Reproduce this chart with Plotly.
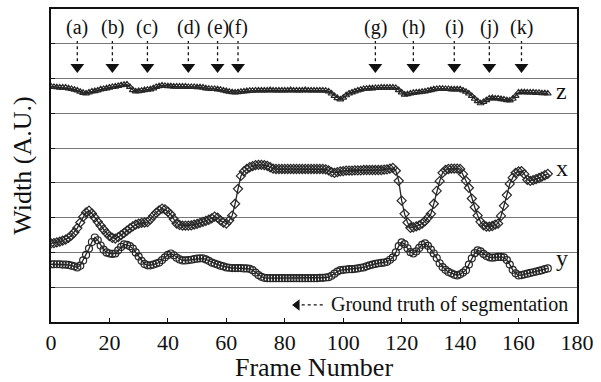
import plotly.graph_objects as go

frames = list(range(0, 171))

z_vals = [
    6.77, 6.76, 6.75, 6.74, 6.74, 6.74, 6.72, 6.70, 6.68, 6.66,
    6.62, 6.59, 6.57, 6.60, 6.63, 6.64, 6.66, 6.69, 6.70, 6.72,
    6.74, 6.76, 6.77, 6.79, 6.81, 6.82, 6.83, 6.76, 6.67, 6.63,
    6.64, 6.65, 6.67, 6.68, 6.69, 6.72, 6.76, 6.78, 6.80, 6.79,
    6.78, 6.78, 6.77, 6.77, 6.77, 6.77, 6.77, 6.76, 6.76, 6.76,
    6.75, 6.75, 6.74, 6.72, 6.71, 6.70, 6.70, 6.69, 6.68, 6.66,
    6.64, 6.62, 6.61, 6.60, 6.61, 6.62, 6.63, 6.64, 6.65, 6.65,
    6.66, 6.66, 6.66, 6.66, 6.66, 6.67, 6.66, 6.66, 6.66, 6.66,
    6.66, 6.66, 6.67, 6.66, 6.66, 6.66, 6.66, 6.67, 6.66, 6.66,
    6.66, 6.66, 6.66, 6.66, 6.65, 6.63, 6.57, 6.50, 6.44, 6.40,
    6.45, 6.52, 6.57, 6.60, 6.63, 6.66, 6.68, 6.70, 6.71, 6.72,
    6.72, 6.73, 6.73, 6.74, 6.74, 6.74, 6.74, 6.74, 6.73, 6.67,
    6.60, 6.54, 6.55, 6.57, 6.59, 6.60, 6.61, 6.62, 6.63, 6.65,
    6.67, 6.69, 6.70, 6.71, 6.71, 6.70, 6.70, 6.69, 6.69, 6.69,
    6.69, 6.66, 6.62, 6.57, 6.50, 6.42, 6.35, 6.29, 6.33, 6.38,
    6.43, 6.44, 6.43, 6.43, 6.41, 6.40, 6.38, 6.37, 6.42, 6.50,
    6.60, 6.61, 6.61, 6.60, 6.60, 6.60, 6.59, 6.59, 6.58, 6.58,
    6.57,
]

x_vals = [
    2.26, 2.27, 2.29, 2.31, 2.34, 2.37, 2.42, 2.49, 2.58, 2.70,
    2.86, 3.02, 3.15, 3.20, 3.12, 3.00, 2.88, 2.77, 2.66, 2.56,
    2.47, 2.42, 2.40, 2.44, 2.50, 2.56, 2.63, 2.69, 2.75, 2.80,
    2.83, 2.85, 2.86, 2.87, 2.95, 3.05, 3.14, 3.21, 3.26, 3.24,
    3.17, 3.09, 2.96, 2.83, 2.79, 2.77, 2.77, 2.77, 2.78, 2.80,
    2.82, 2.85, 2.88, 2.91, 2.94, 2.98, 3.03, 3.00, 2.92, 2.86,
    2.83, 2.92, 3.06, 3.40, 3.83, 4.20, 4.33, 4.40, 4.45, 4.48,
    4.51, 4.52, 4.52, 4.51, 4.49, 4.45, 4.41, 4.40, 4.40, 4.40,
    4.40, 4.40, 4.40, 4.40, 4.40, 4.40, 4.40, 4.40, 4.40, 4.40,
    4.40, 4.40, 4.40, 4.40, 4.39, 4.36, 4.31, 4.29, 4.31, 4.33,
    4.34, 4.35, 4.35, 4.35, 4.36, 4.36, 4.36, 4.37, 4.37, 4.37,
    4.37, 4.37, 4.37, 4.37, 4.38, 4.39, 4.41, 4.43, 4.35, 4.06,
    3.49, 3.11, 2.86, 2.71, 2.72, 2.75, 2.78, 2.83, 2.90, 3.00,
    3.11, 3.40, 3.77, 4.05, 4.29, 4.37, 4.40, 4.41, 4.41, 4.41,
    4.40, 4.25, 4.06, 3.86, 3.55, 3.30, 3.06, 2.88, 2.78, 2.74,
    2.74, 2.76, 2.80, 2.83, 3.05, 3.34, 3.65, 3.97, 4.15, 4.29,
    4.33, 4.34, 4.25, 4.09, 4.06, 4.08, 4.11, 4.14, 4.18, 4.22,
    4.26,
]

y_vals = [
    1.66, 1.66, 1.66, 1.66, 1.65, 1.65, 1.64, 1.62, 1.60, 1.57,
    1.62, 1.77, 1.93, 2.11, 2.30, 2.43, 2.35, 2.20, 2.08, 2.00,
    1.97, 1.96, 1.97, 2.06, 2.16, 2.23, 2.22, 2.18, 2.11, 2.00,
    1.88, 1.76, 1.67, 1.63, 1.63, 1.65, 1.68, 1.71, 1.78, 1.86,
    1.93, 1.97, 1.92, 1.85, 1.80, 1.77, 1.77, 1.78, 1.79, 1.81,
    1.82, 1.83, 1.83, 1.80, 1.76, 1.71, 1.68, 1.65, 1.62, 1.60,
    1.57, 1.56, 1.55, 1.55, 1.55, 1.55, 1.54, 1.54, 1.53, 1.49,
    1.42, 1.35, 1.30, 1.27, 1.26, 1.26, 1.26, 1.26, 1.26, 1.26,
    1.26, 1.26, 1.26, 1.26, 1.26, 1.26, 1.26, 1.26, 1.26, 1.26,
    1.26, 1.26, 1.27, 1.27, 1.28, 1.29, 1.33, 1.39, 1.45, 1.49,
    1.50, 1.51, 1.52, 1.52, 1.53, 1.54, 1.56, 1.57, 1.60, 1.63,
    1.65, 1.67, 1.69, 1.70, 1.71, 1.73, 1.79, 1.86, 2.00, 2.18,
    2.29, 2.24, 2.12, 2.01, 1.97, 2.03, 2.13, 2.22, 2.26, 2.19,
    2.08, 1.97, 1.84, 1.69, 1.58, 1.50, 1.44, 1.40, 1.36, 1.34,
    1.37, 1.42, 1.49, 1.65, 1.83, 1.98, 2.06, 2.03, 1.96, 1.90,
    1.86, 1.85, 1.86, 1.87, 1.87, 1.86, 1.78, 1.65, 1.50, 1.40,
    1.34, 1.35, 1.37, 1.39, 1.41, 1.43, 1.45, 1.47, 1.49, 1.52,
    1.54,
]

gt_frames = [9, 21, 33, 47, 57, 64, 111, 124, 138, 150, 161]
gt_labels = ["(a)", "(b)", "(c)", "(d)", "(e)", "(f)", "(g)", "(h)", "(i)", "(j)", "(k)"]

series_names = ["z", "x", "y"]
x_ticks = [0, 20, 40, 60, 80, 100, 120, 140, 160, 180]

FONT = "Liberation Serif"
INK = "#262626"

fig = go.Figure()

for vals, sym, sz in [(z_vals, "triangle-up-open", 6), (x_vals, "diamond-open", 7), (y_vals, "circle-open", 7)]:
    fig.add_trace(go.Scatter(
        x=frames, y=vals, mode="lines+markers",
        line=dict(color=INK, width=1.3),
        marker=dict(symbol=sym, size=sz, color=INK, line=dict(width=1.2, color=INK)),
        showlegend=False, hoverinfo="skip",
    ))

# ground-truth arrows
fig.add_trace(go.Scatter(
    x=gt_frames, y=[7.33] * len(gt_frames), mode="markers",
    marker=dict(symbol="triangle-down", size=12, color="#111"),
    showlegend=False, hoverinfo="skip",
))
for f, lab in zip(gt_frames, gt_labels):
    fig.add_shape(type="line", x0=f, x1=f, y0=7.5, y1=8.08,
                  line=dict(color="#111", width=1.3, dash="dot"))
    fig.add_annotation(x=f, y=8.47, text=lab, showarrow=False,
                       font=dict(family=FONT, size=20, color="#111"),
                       xanchor="center", yanchor="middle")

# series labels
for name, yv in zip(series_names, [6.63, 4.43, 1.85]):
    fig.add_annotation(x=172, y=yv, text=name, showarrow=False,
                       font=dict(family=FONT, size=24, color="#111"),
                       xanchor="left", yanchor="middle")

# legend for ground truth
fig.add_trace(go.Scatter(
    x=[84.2], y=[0.49], mode="markers",
    marker=dict(symbol="triangle-left", size=10, color="#111"),
    showlegend=False, hoverinfo="skip",
))
fig.add_shape(type="line", x0=85.8, x1=94.0, y0=0.49, y1=0.49,
              line=dict(color="#111", width=1.3, dash="dot"))
fig.add_annotation(x=95.3, y=0.49, text="Ground truth of segmentation", showarrow=False,
                   font=dict(family=FONT, size=20, color="#111"),
                   xanchor="left", yanchor="middle")

fig.update_layout(
    width=601, height=382,
    margin=dict(l=51, r=21, t=7, b=60),
    paper_bgcolor="white", plot_bgcolor="white",
    font=dict(family=FONT, color="#111"),
)
fig.update_xaxes(
    range=[0, 180], tickvals=x_ticks, ticktext=[str(t) for t in x_ticks],
    showgrid=False, zeroline=False,
    showline=True, linecolor="#111", linewidth=1.5, mirror=True,
    ticks="inside", ticklen=4, tickcolor="#111",
    tickfont=dict(family=FONT, size=22, color="#111"),
    title=dict(text="Frame Number", font=dict(family=FONT, size=26, color="#111"), standoff=2),
)
fig.update_yaxes(
    range=[0, 9], dtick=1, showticklabels=False,
    showgrid=True, gridcolor="#777", gridwidth=1.3, zeroline=False,
    showline=True, linecolor="#111", linewidth=1.5, mirror=True,
    ticks="inside", ticklen=4, tickcolor="#111",
    title=dict(text="Width (A.U.)", font=dict(family=FONT, size=26, color="#111"), standoff=10),
)

fig.write_html("out.html")
